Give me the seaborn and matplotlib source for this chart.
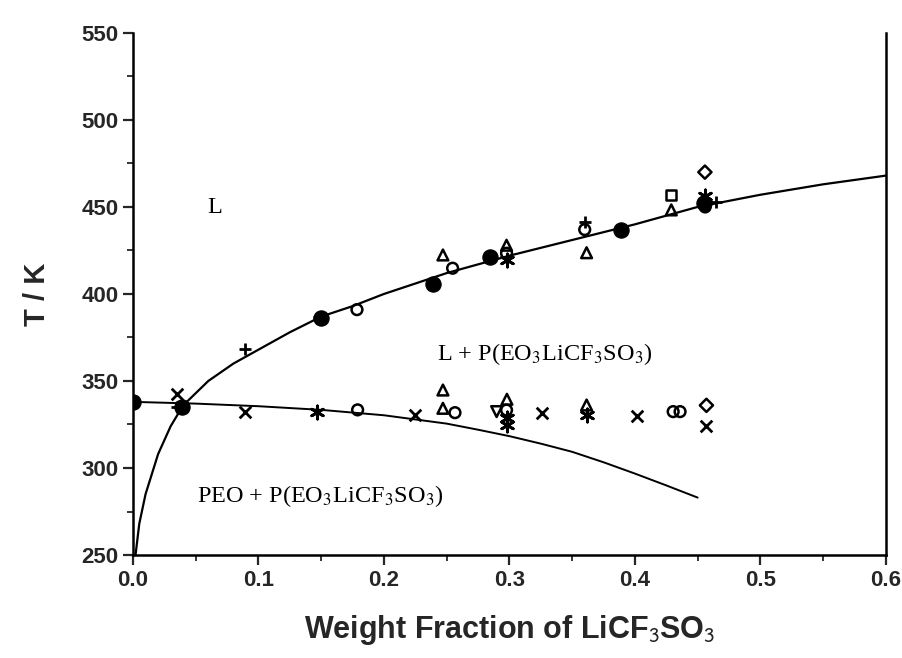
import matplotlib
matplotlib.use("Agg")
import matplotlib.pyplot as plt
from matplotlib.ticker import MultipleLocator
import pandas as pd
import seaborn as sns

# --- Data ---
# liquidus / upper curve
liq_x = [0.002, 0.005, 0.01, 0.02, 0.03, 0.04, 0.06, 0.08, 0.10, 0.125, 0.15,
         0.175, 0.20, 0.25, 0.30, 0.35, 0.40, 0.45, 0.50, 0.55, 0.60]
liq_t = [250, 268, 285, 308, 324, 336, 350, 360, 368, 378, 387,
         393, 400, 412, 422, 431, 440, 450, 457, 463, 468]
# eutectic / lower curve
sol_x = [0.0, 0.05, 0.10, 0.15, 0.20, 0.25, 0.275, 0.30, 0.325, 0.35, 0.375,
         0.40, 0.425, 0.45]
sol_t = [338, 337, 335.5, 333.4, 330.3, 325.5, 322, 318.3, 314, 309.3, 303.3,
         296.8, 290, 283]

# measured points, one list pair per symbol
dot_x = [0.0, 0.039, 0.15, 0.239, 0.2845, 0.389, 0.455]
dot_t = [338, 335.3, 386.3, 406, 421, 436.8, 452]
circ_x = [0.1785, 0.2547, 0.2977, 0.36, 0.456, 0.179, 0.2566, 0.2977, 0.4305, 0.436]
circ_t = [391, 414.8, 423.4, 437, 450, 333.4, 331.8, 333.3, 332.4, 332.4]
plus_x = [0.035, 0.0894, 0.148, 0.36, 0.465]
plus_t = [335, 368.4, 387, 441.6, 453]
tri_x = [0.247, 0.2977, 0.3615, 0.429, 0.247, 0.247, 0.298, 0.3615]
tri_t = [422.4, 428, 423.7, 448.3, 344.8, 334.3, 339.5, 336.2]
tdown_x = [0.2898]
tdown_t = [332.4]
sq_x = [0.429]
sq_t = [457]
dia_x = [0.4558, 0.457]
dia_t = [470, 336]
cross_x = [0.0349, 0.0894, 0.2247, 0.3256, 0.4018, 0.4566]
cross_t = [342.3, 332.4, 330.5, 331.4, 329.9, 324]
star_x = [0.1466, 0.2977, 0.2977, 0.3615, 0.4558, 0.2977]
star_t = [332.4, 328.7, 324.7, 330.5, 456, 419.5]

sns.set_style("ticks")
fig, ax = plt.subplots(figsize=(9.03, 6.58), dpi=100)
fig.subplots_adjust(left=0.1473, right=0.981, bottom=0.1565, top=0.950)

sns.lineplot(x=liq_x, y=liq_t, sort=False, estimator=None, color="black", lw=1.6, ax=ax)
sns.lineplot(x=sol_x, y=sol_t, sort=False, estimator=None, color="black", lw=1.4, ax=ax)

groups = [
    (dot_x, dot_t, "o", True, 120),
    (circ_x, circ_t, "o", False, 60),
    (plus_x, plus_t, "+", None, 80),
    (tri_x, tri_t, "^", False, 60),
    (tdown_x, tdown_t, "v", False, 60),
    (sq_x, sq_t, "s", False, 55),
    (dia_x, dia_t, "D", False, 45),
    (cross_x, cross_t, "x", None, 70),
    (star_x, star_t, (6, 2, 0), None, 90),
]
for gx, gt, mk, filled, s in groups:
    df = pd.DataFrame({"x": gx, "T": gt})
    if filled is None:
        sns.scatterplot(data=df, x="x", y="T", marker=mk, s=s, color="black",
                        linewidth=2.0, ax=ax, zorder=3)
    elif filled:
        sns.scatterplot(data=df, x="x", y="T", marker=mk, s=s, color="black",
                        edgecolor="black", ax=ax, zorder=3)
    else:
        sns.scatterplot(data=df, x="x", y="T", marker=mk, s=s, facecolor="none",
                        edgecolor="black", linewidth=1.8, ax=ax, zorder=3)

ax.set_xlim(0, 0.6)
ax.set_ylim(250, 550)
ax.xaxis.set_major_locator(MultipleLocator(0.1))
ax.xaxis.set_minor_locator(MultipleLocator(0.05))
ax.yaxis.set_major_locator(MultipleLocator(50))
ax.yaxis.set_minor_locator(MultipleLocator(25))
ax.set_xticks([0.0, 0.1, 0.2, 0.3, 0.4, 0.5, 0.6])
ax.set_xticklabels(["0.0", "0.1", "0.2", "0.3", "0.4", "0.5", "0.6"])
ax.tick_params(which="major", direction="out", length=7, width=1.6,
               labelsize=16, top=False, right=False)
ax.tick_params(which="minor", direction="out", length=4, width=1.3,
               top=False, right=False)
for lab in ax.get_xticklabels() + ax.get_yticklabels():
    lab.set_fontfamily("Liberation Sans")
    lab.set_fontweight("bold")

ax.spines["top"].set_visible(False)
for side in ["left", "bottom", "right"]:
    ax.spines[side].set_linewidth(1.8)
    ax.spines[side].set_color("black")

ax.set_xlabel("Weight Fraction of LiCF$_3$SO$_3$", fontsize=22, fontweight="bold",
              fontfamily="Liberation Sans", math_fontfamily="stixsans", labelpad=16)
ax.set_ylabel("T / K", fontsize=21, fontweight="bold", fontfamily="Liberation Sans",
              labelpad=22)

serif = dict(fontsize=17.5, fontfamily="Liberation Serif", math_fontfamily="stix",
             color="black", va="baseline")
ax.text(0.059, 446.8, "L", **serif)
ax.text(0.242, 362, "L + P(EO$_3$LiCF$_3$SO$_3$)", **serif)
ax.text(0.051, 280.6, "PEO + P(EO$_3$LiCF$_3$SO$_3$)", **serif)

fig.savefig("out.png", dpi=100)
